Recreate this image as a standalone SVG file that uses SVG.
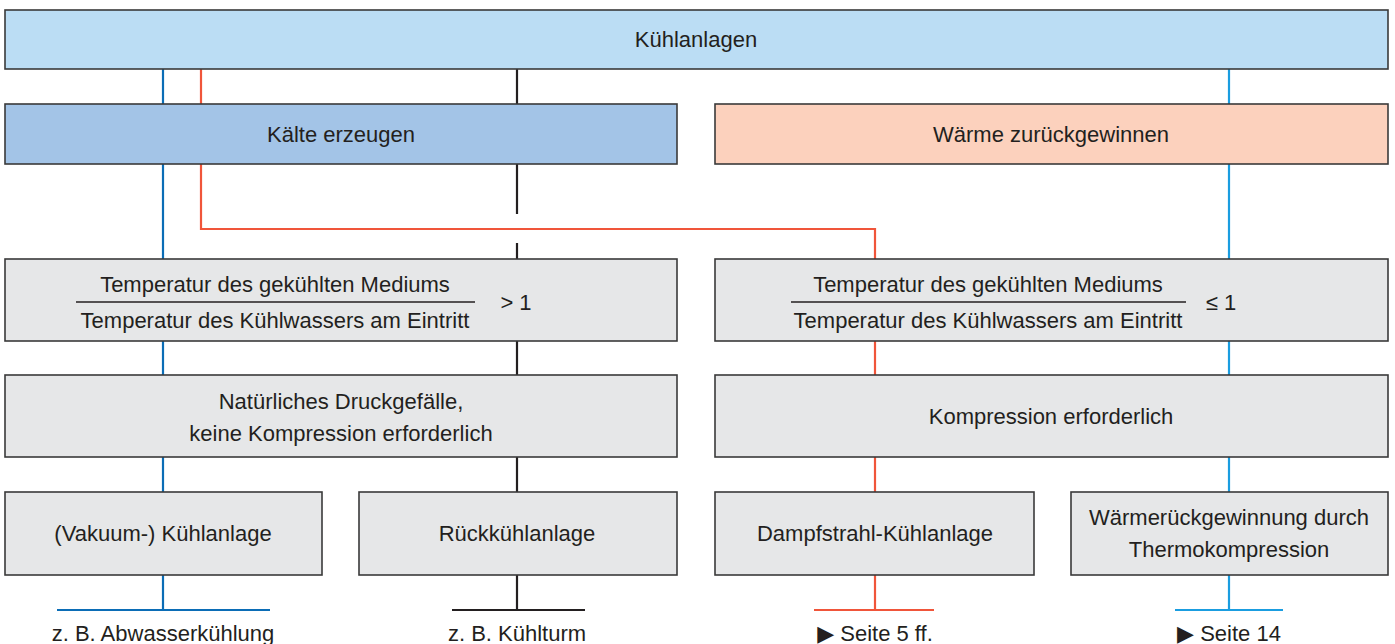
<svg xmlns="http://www.w3.org/2000/svg" width="1395" height="644" viewBox="0 0 1395 644">
<style>
.box{stroke:#3a3a3a;stroke-width:1.6}
.top{fill:#bbddf4}
.kaelte{fill:#a3c4e7}
.waerme{fill:#fcd1bd}
.grey{fill:#e6e7e8}
text{font-family:"Liberation Sans",Arial,sans-serif;font-size:22px;fill:#231f20;text-anchor:middle}
.c{fill:none;stroke-width:2.2}
.blue{stroke:#0b6db6}
.red{stroke:#f0553a}
.black{stroke:#231f20}
.cyan{stroke:#1a9de0}
.frac{stroke:#231f20;stroke-width:1.5}
.tri{font-family:"DejaVu Sans",sans-serif;font-size:22px}
</style>
<g id="connectors">
<path class="c blue" d="M163 69V104M163 164V259M163 341V375M163 457V492M163 575V610M57 610H270"/>
<path class="c black" d="M517 69V104M517 164V214M517 243V259M517 341V375M517 457V492M517 575V610M452 610H585"/>
<path class="c red" d="M201 69V104M201 164V229H875V259M875 341V375M875 457V492M875 575V610M814 610H934"/>
<path class="c cyan" d="M1229 69V104M1229 164V259M1229 341V375M1229 457V492M1229 575V610M1175 610H1283"/>
</g>
<g id="kuehlanlagen">
<rect class="box top" x="5" y="10" width="1383" height="59"/>
<text x="696" y="47">Kühlanlagen</text>
</g>
<g id="kaelte-erzeugen">
<rect class="box kaelte" x="5" y="104" width="672" height="60"/>
<text x="341" y="142">Kälte erzeugen</text>
</g>
<g id="waerme-zurueckgewinnen">
<rect class="box waerme" x="715" y="104" width="673" height="60"/>
<text x="1051" y="142">Wärme zurückgewinnen</text>
</g>
<g id="ratio-gt">
<rect class="box grey" x="5" y="259" width="672" height="82"/>
<text x="275" y="292">Temperatur des gekühlten Mediums</text>
<line class="frac" x1="76" y1="302" x2="475" y2="302"/>
<text x="275" y="328">Temperatur des Kühlwassers am Eintritt</text>
<text x="516" y="310" font-size="23">&gt; 1</text>
</g>
<g id="ratio-le">
<rect class="box grey" x="715" y="259" width="673" height="82"/>
<text x="988" y="292">Temperatur des gekühlten Mediums</text>
<line class="frac" x1="791" y1="302" x2="1186" y2="302"/>
<text x="988" y="328">Temperatur des Kühlwassers am Eintritt</text>
<text x="1221" y="310" font-size="23">≤ 1</text>
</g>
<g id="natuerlich">
<rect class="box grey" x="5" y="375" width="672" height="82"/>
<text x="341" y="409">Natürliches Druckgefälle,</text>
<text x="341" y="441">keine Kompression erforderlich</text>
</g>
<g id="kompression">
<rect class="box grey" x="715" y="375" width="673" height="82"/>
<text x="1051" y="424">Kompression erforderlich</text>
</g>
<g id="vakuum">
<rect class="box grey" x="5" y="492" width="317" height="83"/>
<text x="163" y="541">(Vakuum-) Kühlanlage</text>
</g>
<g id="rueckkuehl">
<rect class="box grey" x="359" y="492" width="318" height="83"/>
<text x="517" y="541">Rückkühlanlage</text>
</g>
<g id="dampfstrahl">
<rect class="box grey" x="715" y="492" width="319" height="83"/>
<text x="875" y="541">Dampfstrahl-Kühlanlage</text>
</g>
<g id="thermokompression">
<rect class="box grey" x="1071" y="492" width="317" height="83"/>
<text x="1229" y="525">Wärmerückgewinnung durch</text>
<text x="1229" y="557">Thermokompression</text>
</g>
<g id="labels">
<text x="163" y="641">z. B. Abwasserkühlung</text>
<text x="517" y="641">z. B. Kühlturm</text>
<text x="875" y="641"><tspan class="tri">▶</tspan> Seite 5 ff.</text>
<text x="1229" y="641"><tspan class="tri">▶</tspan> Seite 14</text>
</g>
</svg>
